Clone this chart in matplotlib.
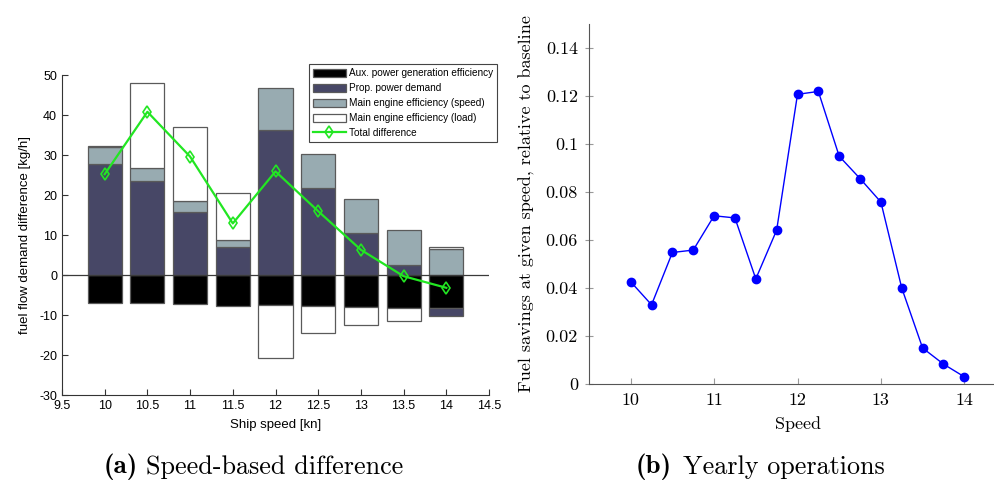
import numpy as np
import matplotlib
matplotlib.use('Agg')
import matplotlib.pyplot as plt
from matplotlib.patches import Patch
from matplotlib.lines import Line2D
from matplotlib.ticker import FuncFormatter

# Speed-based breakdown of the fuel flow difference [kg/h]
ship_speed = [10, 10.5, 11, 11.5, 12, 12.5, 13, 13.5, 14]
aux_power = [-7.1, -7.1, -7.3, -7.7, -7.6, -7.8, -8.1, -8.3, -8.3]
prop_power = [27.8, 23.4, 15.7, 7.1, 36.2, 21.75, 10.4, 2.5, -2.0]
me_speed = [4.2, 3.3, 2.7, 1.7, 10.5, 8.6, 8.5, 8.7, 6.4]
me_load = [0.3, 21.2, 18.5, 11.8, -13.2, -6.6, -4.5, -3.2, 0.7]
component_labels = ['Aux. power generation efficiency', 'Prop. power demand',
                    'Main engine efficiency (speed)', 'Main engine efficiency (load)']

# Yearly fuel savings relative to baseline
yearly_speed = [10, 10.25, 10.5, 10.75, 11, 11.25, 11.5, 11.75, 12,
                12.25, 12.5, 12.75, 13, 13.25, 13.5, 13.75, 14]
yearly_savings = [0.0426, 0.0330, 0.0548, 0.0558, 0.0701, 0.0692, 0.0438, 0.0641, 0.1207,
                  0.1219, 0.0949, 0.0856, 0.0758, 0.0400, 0.0150, 0.0083, 0.0030]

plt.rcParams['axes.unicode_minus'] = False

W, H = 994, 488
fig = plt.figure(figsize=(W / 100, H / 100), dpi=100)


def fig_rect(x0, y0, x1, y1):
    """Pixel box (top-left origin) -> figure fraction rect."""
    return [x0 / W, 1 - y1 / H, (x1 - x0) / W, (y1 - y0) / H]


# ---- (a) stacked bars ----
sans = 'Liberation Sans'
ax1 = fig.add_axes(fig_rect(62, 75, 489, 395))
components = [aux_power, prop_power, me_speed, me_load]
colors = ['#000000', '#474766', '#98abb1', '#ffffff']
x = np.array(ship_speed)
pos_base = np.zeros(len(x))
neg_base = np.zeros(len(x))
for vals, col in zip(components, colors):
    vals = np.array(vals)
    bottom = np.where(vals >= 0, pos_base, neg_base)
    ax1.bar(x, vals, width=0.4, bottom=bottom, color=col,
            edgecolor='#5a5a5a', linewidth=0.9, zorder=2)
    pos_base = pos_base + np.clip(vals, 0, None)
    neg_base = neg_base + np.clip(vals, None, 0)

total = np.sum(np.array(components), axis=0)
ax1.plot(x, total, color='#22e622', lw=1.6, marker='d', markersize=6,
         markerfacecolor='none', markeredgewidth=1.2, zorder=4)
ax1.axhline(0, color='#3a3a3a', lw=0.9, zorder=3)

ax1.set_xlim(9.5, 14.5)
ax1.set_ylim(-30, 50)
ax1.set_xticks(np.arange(9.5, 14.51, 0.5))
ax1.set_yticks(np.arange(-30, 51, 10))
ax1.xaxis.set_major_formatter(FuncFormatter(lambda v, p: f'{v:g}'))
ax1.tick_params(direction='in', length=4, labelsize=9, color='#333333')
for lab in ax1.get_xticklabels() + ax1.get_yticklabels():
    lab.set_fontfamily(sans)
for s in ['top', 'right']:
    ax1.spines[s].set_visible(False)
for s in ['left', 'bottom']:
    ax1.spines[s].set_color('#333333')
ax1.set_xlabel('Ship speed [kn]', fontsize=9.5, fontfamily=sans, labelpad=5)
ax1.set_ylabel('fuel flow demand difference [kg/h]', fontsize=9.5, fontfamily=sans, labelpad=6)

handles = [Patch(facecolor=c, edgecolor='#5a5a5a', linewidth=0.9) for c in colors]
handles.append(Line2D([], [], color='#22e622', lw=1.6, marker='d', markersize=6,
                      markerfacecolor='none', markeredgewidth=1.2))
leg = ax1.legend(handles, component_labels + ['Total difference'],
                 loc='upper right', bbox_to_anchor=(497 / W, 1 - 64 / H),
                 bbox_transform=fig.transFigure, prop={'family': sans, 'size': 7.2},
                 fancybox=False, framealpha=1, edgecolor='#444444',
                 handlelength=3.3, handleheight=0.85, handletextpad=0.3,
                 labelspacing=0.5, borderpad=0.4, borderaxespad=0)
leg.get_frame().set_linewidth(0.8)

# ---- (b) yearly savings ----
serif = 'cmr10'
ax2 = fig.add_axes(fig_rect(589, 24, 1006, 384))
ax2.plot(yearly_speed, yearly_savings, color='#0000ff', lw=1.0,
         marker='o', markersize=6, clip_on=False, zorder=3)
ax2.set_xlim(9.5, 14.5)
ax2.set_ylim(0, 0.15)
ax2.set_xticks([10, 11, 12, 13, 14])
ax2.set_yticks(np.arange(0, 0.141, 0.02))
ax2.yaxis.set_major_formatter(FuncFormatter(lambda v, p: f'{round(v, 2):g}'))
ax2.xaxis.set_major_formatter(FuncFormatter(lambda v, p: f'{v:g}'))
ax2.tick_params(axis='x', direction='in', length=4, color='#999999', labelsize=13, pad=6)
ax2.tick_params(axis='y', direction='inout', length=6, color='#999999', labelsize=13, pad=5)
for lab in ax2.get_xticklabels() + ax2.get_yticklabels():
    lab.set_fontfamily(serif)
for s in ['top', 'right']:
    ax2.spines[s].set_visible(False)
for s in ['left', 'bottom']:
    ax2.spines[s].set_color('#555555')
ax2.set_xlabel('Speed', fontsize=13, fontfamily=serif, labelpad=6)
ax2.set_ylabel('Fuel savings at given speed, relative to baseline',
               fontsize=13, fontfamily=serif, labelpad=8)

# ---- sub-captions: bold tag + roman text ----
cap_y = 1 - 467 / H
fig.text(104 / W, cap_y, '(a)', ha='left', va='center', fontsize=19.5, fontfamily='cmb10')
fig.text(146 / W, cap_y, 'Speed-based difference', ha='left', va='center',
         fontsize=18.8, fontfamily=serif)
fig.text(636 / W, cap_y, '(b)', ha='left', va='center', fontsize=19.5, fontfamily='cmb10')
fig.text(683 / W, cap_y, 'Yearly operations', ha='left', va='center',
         fontsize=18.8, fontfamily=serif)

fig.savefig('out.png', dpi=100)
